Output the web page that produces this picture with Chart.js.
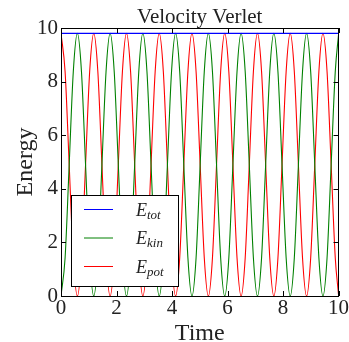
<!DOCTYPE html>
<html>
<head>
<meta charset="utf-8">
<script src="https://cdn.jsdelivr.net/npm/chart.js@4"></script>
<style>
  html, body { margin: 0; padding: 0; background: #fff; }
  #wrap { width: 349px; height: 342px; }
</style>
</head>
<body>
<div id="wrap"><canvas id="chart" width="349" height="342"></canvas></div>
<script>
// values
const times = [0, 0.148, 0.295, 0.443, 0.59, 0.738, 0.885, 1.033, 1.18, 1.328, 1.475, 1.623, 1.77, 1.918, 2.065, 2.213,
  2.36, 2.508, 2.655, 2.803, 2.95, 3.098, 3.245, 3.393, 3.54, 3.688, 3.835, 3.983, 4.13, 4.278, 4.425, 4.573,
  4.72, 4.868, 5.015, 5.163, 5.31, 5.458, 5.605, 5.753, 5.9, 6.048, 6.195, 6.343, 6.49, 6.638, 6.785, 6.933,
  7.08, 7.228, 7.375, 7.523, 7.67, 7.818, 7.965, 8.113, 8.26, 8.408, 8.555, 8.703, 8.85, 8.998, 9.145, 9.293,
  9.44, 9.588, 9.735, 9.883, 10];
const eKin = [0, 1.43, 4.9, 8.37, 9.8, 8.37, 4.9, 1.43, 0, 1.43, 4.9, 8.37, 9.8, 8.37, 4.9, 1.43,
  0, 1.43, 4.9, 8.37, 9.8, 8.37, 4.9, 1.43, 0, 1.43, 4.9, 8.37, 9.8, 8.37, 4.9, 1.43,
  0, 1.43, 4.9, 8.37, 9.8, 8.37, 4.9, 1.43, 0, 1.43, 4.9, 8.37, 9.8, 8.37, 4.9, 1.43,
  0, 1.43, 4.9, 8.37, 9.8, 8.37, 4.9, 1.43, 0, 1.43, 4.9, 8.37, 9.8, 8.37, 4.9, 1.43,
  0, 1.43, 4.9, 8.37, 9.74];
const ePot = [9.8, 8.37, 4.9, 1.43, 0, 1.43, 4.9, 8.37, 9.8, 8.37, 4.9, 1.43, 0, 1.43, 4.9, 8.37,
  9.8, 8.37, 4.9, 1.43, 0, 1.43, 4.9, 8.37, 9.8, 8.37, 4.9, 1.43, 0, 1.43, 4.9, 8.37,
  9.8, 8.37, 4.9, 1.43, 0, 1.43, 4.9, 8.37, 9.8, 8.37, 4.9, 1.43, 0, 1.43, 4.9, 8.37,
  9.8, 8.37, 4.9, 1.43, 0, 1.43, 4.9, 8.37, 9.8, 8.37, 4.9, 1.43, 0, 1.43, 4.9, 8.37,
  9.8, 8.37, 4.9, 1.43, 0.06];
const totTimes = [0, 10];
const eTot = [9.8, 9.8];
const xTicks = [0, 2, 4, 6, 8, 10];
const yTicks = [0, 2, 4, 6, 8, 10];

const legendItems = [
  { color: '#0000ff', sub: 'tot' },
  { color: '#008000', sub: 'kin' },
  { color: '#ff0000', sub: 'pot' }
];

const serif = '"Liberation Serif", "DejaVu Serif", serif';
const textColor = '#222';

const pts = (xs, ys) => xs.map((x, i) => ({ x: x, y: ys[i] }));

// frame, inward ticks, titles and the legend, matplotlib style
const decorations = {
  id: 'decorations',
  afterDraw(chart) {
    const ctx = chart.ctx;
    const a = chart.chartArea;
    const xs = chart.scales.x;
    const ys = chart.scales.y;
    ctx.save();

    ctx.strokeStyle = '#000';
    ctx.lineWidth = 1;
    ctx.beginPath();
    xTicks.forEach(v => {
      const px = Math.round(xs.getPixelForValue(v)) + 0.5;
      ctx.moveTo(px, a.bottom); ctx.lineTo(px, a.bottom - 5);
      ctx.moveTo(px, a.top); ctx.lineTo(px, a.top + 5);
    });
    yTicks.forEach(v => {
      const py = Math.round(ys.getPixelForValue(v)) + 0.5;
      ctx.moveTo(a.left, py); ctx.lineTo(a.left + 5, py);
      ctx.moveTo(a.right, py); ctx.lineTo(a.right - 5, py);
    });
    ctx.stroke();
    ctx.strokeRect(Math.round(a.left) + 0.5, Math.round(a.top) + 0.5,
      Math.round(a.right - a.left) - 1, Math.round(a.bottom - a.top));

    ctx.fillStyle = textColor;
    ctx.textAlign = 'center';
    ctx.textBaseline = 'alphabetic';
    ctx.font = '21px ' + serif;
    ctx.fillText('Velocity Verlet', (a.left + a.right) / 2, 23);

    ctx.font = '24px ' + serif;
    ctx.fillText('Time', (a.left + a.right) / 2, 340);
    ctx.save();
    ctx.translate(32, (a.top + a.bottom) / 2);
    ctx.rotate(-Math.PI / 2);
    ctx.fillText('Energy', 0, 0);
    ctx.restore();

    // legend box
    const lx = 71.5, ly = 195.5, lw = 107, lh = 91;
    ctx.fillStyle = '#fff';
    ctx.fillRect(lx, ly, lw, lh);
    ctx.strokeStyle = '#000';
    ctx.strokeRect(lx, ly, lw, lh);
    legendItems.forEach((it, i) => {
      const y = 209.5 + i * 28.5;
      ctx.strokeStyle = it.color;
      ctx.beginPath();
      ctx.moveTo(84, y); ctx.lineTo(113, y);
      ctx.stroke();
      ctx.fillStyle = textColor;
      ctx.textAlign = 'left';
      ctx.font = 'italic 18px ' + serif;
      ctx.fillText('E', 136, y + 6);
      const w = ctx.measureText('E').width;
      ctx.font = 'italic 13px ' + serif;
      ctx.fillText(it.sub, 136 + w, y + 9);
    });

    ctx.restore();
  }
};

new Chart(document.getElementById('chart'), {
  type: 'line',
  data: {
    datasets: [
      { data: pts(totTimes, eTot), borderColor: '#0000ff' },
      { data: pts(times, eKin), borderColor: '#008000', cubicInterpolationMode: 'monotone' },
      { data: pts(times, ePot), borderColor: '#ff0000', cubicInterpolationMode: 'monotone' }
    ]
  },
  options: {
    responsive: false,
    animation: false,
    events: [],
    layout: { padding: { top: 28, right: 10, left: 0, bottom: 0 } },
    elements: {
      point: { radius: 0 },
      line: { borderWidth: 1.1, fill: false }
    },
    plugins: { legend: { display: false }, tooltip: { enabled: false } },
    scales: {
      x: {
        type: 'linear',
        min: 0,
        max: 10,
        afterFit: s => { s.height = 46; },
        afterBuildTicks: s => { s.ticks = xTicks.map(v => ({ value: v })); },
        grid: { display: false, drawTicks: false },
        border: { display: false },
        ticks: { padding: 0, color: textColor, font: { family: serif, size: 21 } }
      },
      y: {
        min: 0,
        max: 10,
        afterFit: s => { s.width = 61; },
        afterBuildTicks: s => { s.ticks = yTicks.map(v => ({ value: v })); },
        grid: { display: false, drawTicks: false },
        border: { display: false },
        ticks: { padding: 3, color: textColor, font: { family: serif, size: 21 } }
      }
    }
  },
  plugins: [decorations]
});
</script>
</body>
</html>
